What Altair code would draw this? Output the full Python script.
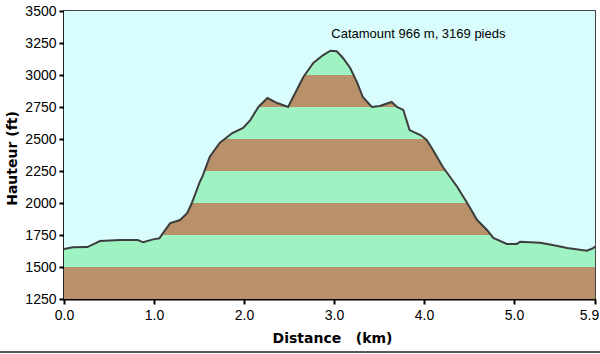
import altair as alt
import pandas as pd

# ---- data ----
dist_km = [0.00, 0.10, 0.26, 0.40, 0.62, 0.82, 0.88, 0.99, 1.06, 1.10,
           1.18, 1.29, 1.37, 1.42, 1.51, 1.54, 1.62, 1.73, 1.87, 1.99,
           2.07, 2.16, 2.26, 2.37, 2.49, 2.54, 2.66, 2.77, 2.88, 2.96,
           3.03, 3.10, 3.18, 3.26, 3.32, 3.42, 3.51, 3.64, 3.70, 3.77,
           3.84, 3.96, 4.03, 4.10, 4.21, 4.29, 4.37, 4.48, 4.59, 4.70,
           4.77, 4.92, 5.03, 5.07, 5.29, 5.43, 5.59, 5.81, 5.88, 5.90]
elev_ft = [1640, 1654, 1656, 1703, 1711, 1711, 1693, 1716, 1724, 1765,
           1843, 1867, 1922, 2000, 2166, 2210, 2362, 2469, 2547, 2586,
           2648, 2750, 2820, 2781, 2750, 2820, 2984, 3094, 3156, 3190,
           3185, 3133, 3055, 2937, 2828, 2750, 2758, 2789, 2750, 2727,
           2570, 2531, 2492, 2414, 2281, 2203, 2125, 2000, 1867, 1789,
           1727, 1680, 1680, 1698, 1690, 1672, 1648, 1627, 1648, 1660]

band_low = [1250, 1500, 1750, 2000, 2250, 2500, 2750, 3000]
band_high = [1500, 1750, 2000, 2250, 2500, 2750, 3000, 3250]
band_kind = ["brun", "vert", "brun", "vert", "brun", "vert", "brun", "vert"]

y_ticks = [1250, 1500, 1750, 2000, 2250, 2500, 2750, 3000, 3250, 3500]
x_ticks = [0.0, 1.0, 2.0, 3.0, 4.0, 5.0, 5.9]
x_domain = [0.0, 5.9]
y_domain = [1250, 3500]

peak_text = ["Catamount 966 m, 3169 pieds"]
peak_x = [2.97]
peak_y = [3320]

# ---- styling ----
BG = "#d9fdfd"
BROWN = "#b8906a"
GREEN = "#9ff2c1"
LINE = "#3d3d3d"
FONT = "Liberation Sans"
TITLE_FONT = "DejaVu Sans"

profile = pd.DataFrame({"d": dist_km, "e": elev_ft})
bands = pd.DataFrame({"lo": band_low, "hi": band_high, "kind": band_kind})
bands["x0"] = x_domain[0]
bands["x1"] = x_domain[1]
label_df = pd.DataFrame({"d": peak_x, "e": peak_y, "t": peak_text})

xscale = alt.Scale(domain=x_domain, nice=False, zero=False)
yscale = alt.Scale(domain=y_domain, nice=False, zero=False)

xaxis = alt.Axis(values=x_ticks, format=".1f",
                 title="Distance\u00a0\u00a0\u00a0(km)",
                 titleX=268, titleY=39, titleAlign="center", titleBaseline="middle",
                 labelPadding=4, labelFlush=False,
                 labelOffset={"condition": {"test": "datum.value > 5.5", "value": -6}, "value": 0})
yaxis = alt.Axis(values=y_ticks, format="d", title="Hauteur (ft)",
                 titleX=-52, titleY=147, titleAngle=-90,
                 titleAlign="center", titleBaseline="middle",
                 labelPadding=3, labelFlush=False)

stripes = alt.Chart(bands).mark_rect().encode(
    x=alt.X("x0:Q", scale=xscale, axis=xaxis),
    x2="x1:Q",
    y=alt.Y("lo:Q", scale=yscale, axis=yaxis),
    y2="hi:Q",
    color=alt.Color("kind:N", scale=alt.Scale(domain=["brun", "vert"], range=[BROWN, GREEN]), legend=None),
)

cover = alt.Chart(profile).mark_area(color=BG, opacity=1).encode(
    x=alt.X("d:Q", scale=xscale, axis=xaxis),
    y=alt.Y("e:Q", scale=yscale, axis=yaxis),
    y2=alt.datum(y_domain[1]),
)

line = alt.Chart(profile).mark_line(color=LINE, strokeWidth=2).encode(
    x=alt.X("d:Q", scale=xscale, axis=xaxis),
    y=alt.Y("e:Q", scale=yscale, axis=yaxis),
)

label = alt.Chart(label_df).mark_text(align="left", baseline="middle", fontSize=13,
                                      font=FONT, color="black").encode(
    x=alt.X("d:Q", scale=xscale, axis=xaxis),
    y=alt.Y("e:Q", scale=yscale, axis=yaxis),
    text="t:N",
)

# thin dark rule along the bottom edge of the picture (frame decoration)
frame_bottom = alt.Chart(label_df).mark_rule(color="#222222", strokeWidth=1.5).encode(
    x=alt.value(-64), x2=alt.value(536), y=alt.value(341),
)

chart = alt.layer(stripes, cover, line, label, frame_bottom).properties(
    width=531, height=288,
    autosize=alt.AutoSizeParams(type="none"),
    padding={"left": 64, "top": 11, "right": 5, "bottom": 55},
    background="white",
).configure_view(
    fill=BG, stroke="#444444", strokeWidth=2,
).configure_axis(
    labelFont=FONT, labelFontSize=14, labelColor="black",
    titleFont=TITLE_FONT, titleFontSize=14, titleFontWeight="bold", titleColor="black",
    domainColor="black", domainWidth=2, tickColor="black", tickWidth=2, tickSize=5,
    grid=False, zindex=1,
)

chart.save("out.html", embed_options={"renderer": "svg", "actions": False})
